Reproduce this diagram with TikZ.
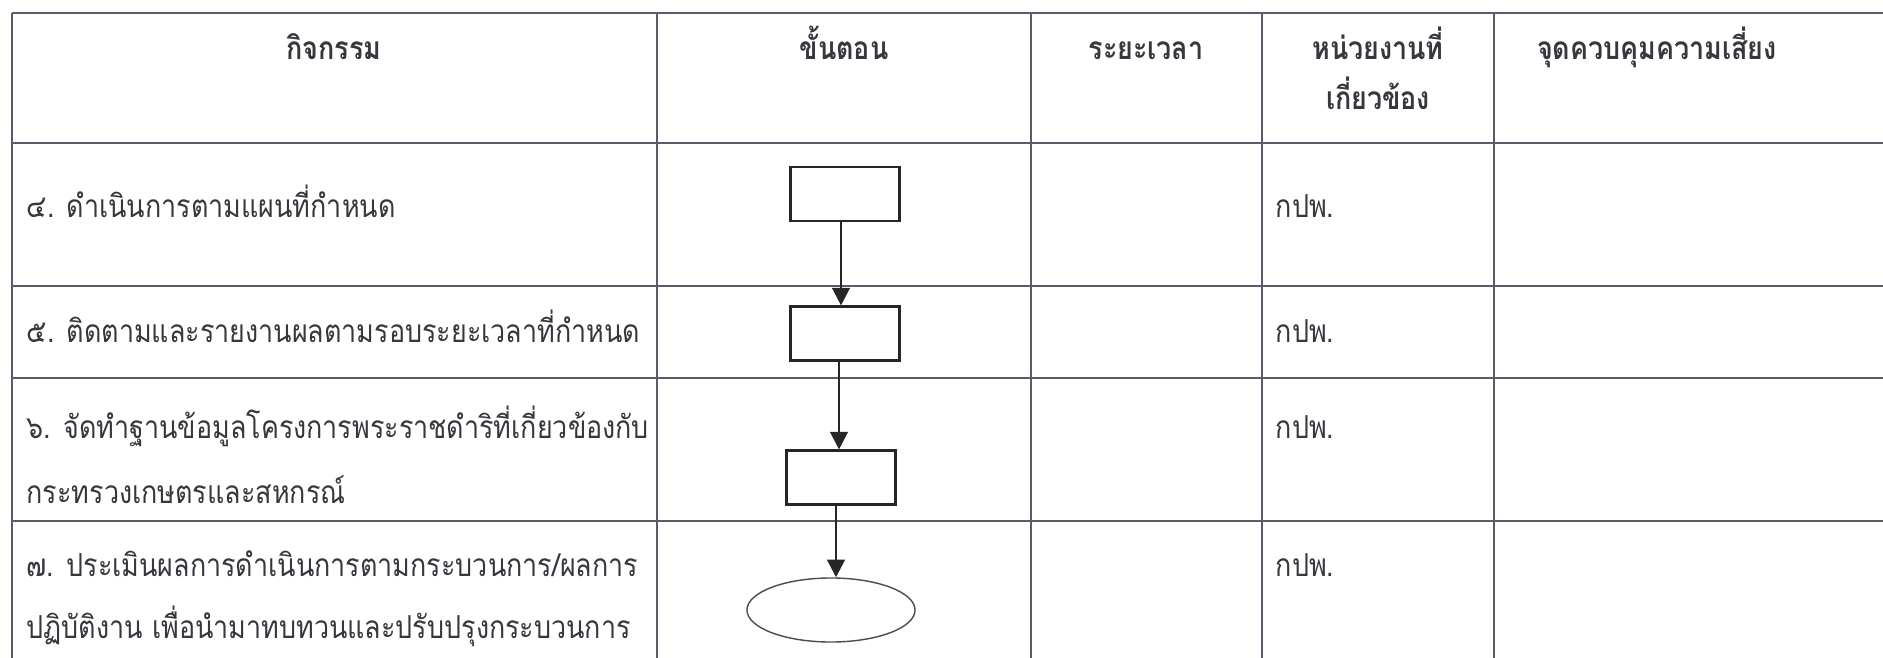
\documentclass[tikz,border=0pt]{standalone}
\usepackage{fontspec}
\newfontfamily\thaifont[Script=Thai,FakeStretch=0.85]{Loma}
\usetikzlibrary{arrows.meta,shapes.geometric}
\definecolor{ink}{RGB}{55,55,62}
\definecolor{rulecol}{RGB}{88,92,104}
\begin{document}
\begin{tikzpicture}[x=0.01cm,y=-0.01cm,
  gridline/.style={draw=rulecol,line width=0.45pt},
  cell/.style={inner sep=0pt,text=ink,font=\thaifont\fontsize{9}{11}\selectfont},
  headcell/.style={cell,font=\thaifont\bfseries\fontsize{9}{11}\selectfont},
  stepbox/.style={draw=black!85,line width=0.6pt,fill=white,minimum width=1.09cm,minimum height=0.54cm,inner sep=0pt},
  endnode/.style={ellipse,draw=black!70,line width=0.4pt,fill=white,minimum width=1.68cm,minimum height=0.64cm,inner sep=0pt},
  flow/.style={draw=black!85,line width=0.7pt,-{Triangle[length=5pt,width=5pt]}}]
\useasboundingbox (0,0) rectangle (1883,658);
\fill[white] (0,0) rectangle (1883,658);

% table rules
\foreach \yy in {13,143,286,378,521}
  \draw[gridline] (12,\yy) -- (1883,\yy);
\foreach \xx in {12,657,1031,1262,1494}
  \draw[gridline] (\xx,13) -- (\xx,658);

% header row
\node[headcell,anchor=base] (h1) at (334,60) {กิจกรรม};
\node[headcell,anchor=base] (h2) at (844,60) {ขั้นตอน};
\node[headcell,anchor=base] (h3) at (1146,60) {ระยะเวลา};
\node[headcell,anchor=base] (h4a) at (1378,60) {หน่วยงานที่};
\node[headcell,anchor=base] (h4b) at (1378,110) {เกี่ยวข้อง};
\node[headcell,anchor=base] (h5) at (1657,60) {จุดควบคุมความเสี่ยง};

% activity column
\node[cell,anchor=base west] (a4) at (26,218) {๔. ดำเนินการตามแผนที่กำหนด};
\node[cell,anchor=base west] (a5) at (26,343) {๕. ติดตามและรายงานผลตามรอบระยะเวลาที่กำหนด};
\node[cell,anchor=base west] (a6a) at (26,438) {๖. จัดทำฐานข้อมูลโครงการพระราชดำริที่เกี่ยวข้องกับ};
\node[cell,anchor=base west] (a6b) at (26,503) {กระทรวงเกษตรและสหกรณ์};
\node[cell,anchor=base west] (a7a) at (26,576) {๗. ประเมินผลการดำเนินการตามกระบวนการ/ผลการ};
\node[cell,anchor=base west] (a7b) at (26,638) {ปฏิบัติงาน เพื่อนำมาทบทวนและปรับปรุงกระบวนการ};

% responsible unit column
\node[cell,anchor=base west] (u4) at (1275,218) {กปพ.};
\node[cell,anchor=base west] (u5) at (1275,343) {กปพ.};
\node[cell,anchor=base west] (u6) at (1275,438) {กปพ.};
\node[cell,anchor=base west] (u7) at (1275,576) {กปพ.};

% flow of steps
\node[stepbox] (s4) at (845,194) {};
\node[stepbox] (s5) at (845,333.5) {};
\node[stepbox] (s6) at (841,477.5) {};
\node[endnode] (s7) at (831,610) {};

\draw[flow] ([xshift=-0.04cm]s4.south) -- ([xshift=-0.04cm]s4.south |- s5.north);
\draw[flow] ([xshift=-0.06cm]s5.south) -- ([xshift=-0.06cm]s5.south |- s6.north);
\draw[flow] ([xshift=-0.05cm]s6.south) -- ([xshift=-0.05cm]s6.south |- s7.north);
\end{tikzpicture}
\end{document}
